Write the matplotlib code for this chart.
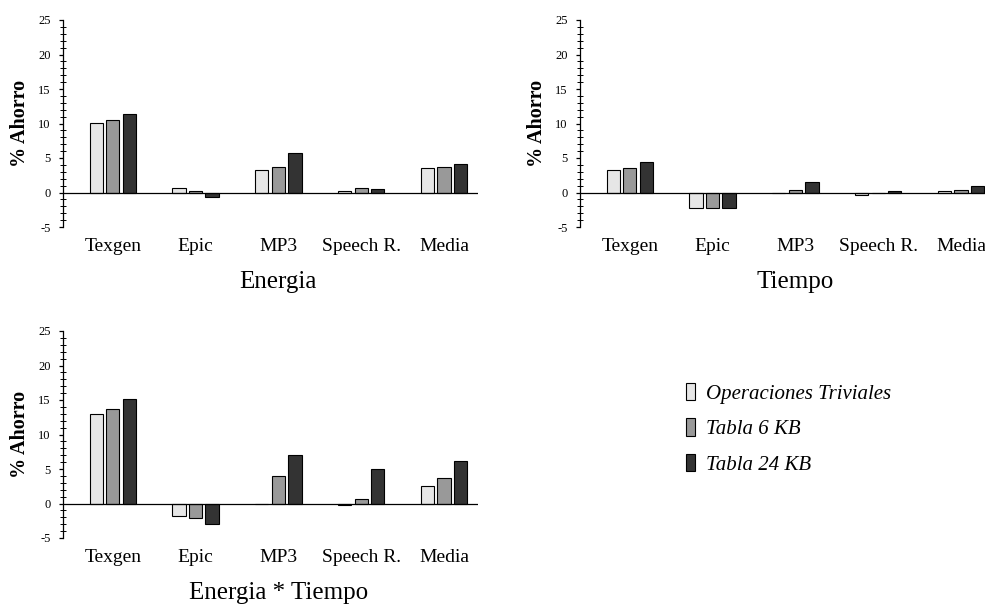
import matplotlib
matplotlib.use("Agg")
import matplotlib.pyplot as plt
from matplotlib.ticker import MultipleLocator
import matplotlib.transforms as mtransforms
import numpy as np

plt.rcParams['font.family'] = ['Liberation Serif', 'DejaVu Serif']
plt.rcParams['axes.unicode_minus'] = False

categories = ["Texgen", "Epic", "MP3", "Speech R.", "Media"]
series_names = ["Operaciones Triviales", "Tabla 6 KB", "Tabla 24 KB"]
colors = ["#e6e6e6", "#999999", "#333333"]

energia = {
    "Operaciones Triviales": [10.1, 0.6, 3.3, 0.15, 3.5],
    "Tabla 6 KB": [10.45, 0.25, 3.75, 0.7, 3.75],
    "Tabla 24 KB": [11.35, -0.7, 5.75, 0.45, 4.2],
}
tiempo = {
    "Operaciones Triviales": [3.25, -2.3, 0.0, -0.3, 0.15],
    "Tabla 6 KB": [3.6, -2.3, 0.35, -0.1, 0.4],
    "Tabla 24 KB": [4.45, -2.3, 1.45, 0.15, 0.95],
}
energia_tiempo = {
    "Operaciones Triviales": [13.0, -1.75, 0.0, -0.2, 2.55],
    "Tabla 6 KB": [13.65, -2.1, 4.05, 0.6, 3.7],
    "Tabla 24 KB": [15.2, -3.0, 7.05, 5.05, 6.1],
}

W, H = 985, 608
fig = plt.figure(figsize=(W / 100, H / 100), dpi=100)


def panel(rect_px, data, title):
    x0, y_top, w, h = rect_px
    ax = fig.add_axes([x0 / W, 1 - (y_top + h) / H, w / W, h / H])
    x = np.arange(len(categories))
    offsets = [-0.2, 0.0, 0.2]
    bars = []
    for name, off, c in zip(series_names, offsets, colors):
        b = ax.bar(x + off, data[name], width=0.16, color=c,
                   edgecolor="black", linewidth=0.8, label=name, zorder=2)
        bars.append(b)
    ax.axhline(0, color="black", linewidth=0.9, zorder=3)
    ax.set_xlim(-0.6, 4.41)
    ax.set_ylim(-5, 25)
    ax.yaxis.set_major_locator(MultipleLocator(5))
    ax.yaxis.set_minor_locator(MultipleLocator(1))
    for s in ["top", "right", "bottom"]:
        ax.spines[s].set_visible(False)
    ax.spines["left"].set_linewidth(0.9)
    ax.tick_params(axis="y", which="major", direction="out", length=3,
                   width=0.9, labelsize=9, pad=6)
    ax.tick_params(axis="y", which="minor", direction="inout", length=4,
                   width=0.7)
    ax.set_xticks(x)
    ax.set_xticklabels(categories, fontsize=14)
    ax.tick_params(axis="x", length=0, pad=8)
    ax.set_ylabel("% Ahorro", fontsize=14.5, fontweight="bold", va="center")
    ax.yaxis.set_label_coords(-43 / w, 0.5)
    trans = mtransforms.blended_transform_factory(ax.transData, ax.transAxes)
    ax.text(2.0, -55 / h, title, transform=trans, ha="center", va="center",
            fontsize=18)
    return ax, bars


ax1, bars = panel((63, 20, 415, 207), energia, "Energia")
ax2, _ = panel((580, 20, 415, 207), tiempo, "Tiempo")
ax3, _ = panel((63, 331, 415, 207), energia_tiempo, "Energia * Tiempo")

fig.legend(handles=bars, labels=series_names, loc="upper left",
           bbox_to_anchor=(686 / W, 1 - 383 / H), frameon=False,
           prop={"style": "italic", "size": 15}, handlelength=0.45,
           handleheight=0.9, handletextpad=0.5, labelspacing=0.7,
           borderpad=0, borderaxespad=0)

fig.savefig("out.png", dpi=100)
